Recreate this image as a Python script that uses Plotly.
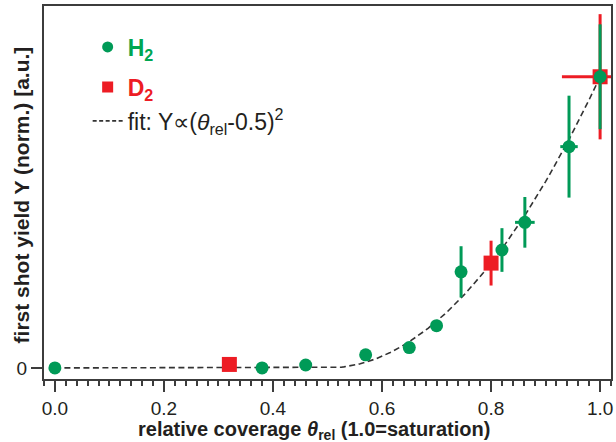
import numpy as np
import plotly.graph_objects as go

# H2 measurements: relative coverage vs. normalised first-shot yield
h2_theta = [0.0, 0.38, 0.46, 0.57, 0.65, 0.70, 0.745, 0.82, 0.862, 0.943, 1.0]
h2_yield = [0.0, 0.0, 0.01, 0.045, 0.07, 0.145, 0.33, 0.405, 0.50, 0.76, 1.0]
h2_err_y = [0, 0, 0, 0, 0, 0, 0.088, 0.075, 0.087, 0.175, 0.18]
h2_err_x = [0, 0, 0, 0, 0, 0, 0, 0, 0.018, 0.016, 0]

# D2 measurements
d2_theta = [0.32, 0.80, 1.0]
d2_yield = [0.012, 0.36, 1.0]
d2_err_y = [0, 0.077, 0.215]
d2_err_x = [0, 0, 0.07]

# quadratic threshold fit  Y = a * (theta - theta0)^2 above theta0
fit_theta0 = 0.5
fit_scale = 4.0

x_tickvals = [0.0, 0.2, 0.4, 0.6, 0.8, 1.0]
x_ticktext = ["0.0", "0.2", "0.4", "0.6", "0.8", "1.0"]

GREEN = "#009a57"
GREEN_TXT = "#00a651"
RED = "#ed1c24"
INK = "#231f20"
AXIS = "#3c3c3c"
FONT = "Liberation Sans, Arial, sans-serif"

fit_x = np.linspace(0.0, 1.0, 201)
fit_y = fit_scale * np.clip(fit_x - fit_theta0, 0, None) ** 2

fig = go.Figure()

fig.add_trace(go.Scatter(
    x=fit_x, y=fit_y, mode="lines",
    line=dict(color="#333333", width=1.6, dash="6px,3.5px"),
    showlegend=False, hoverinfo="skip",
))

fig.add_trace(go.Scatter(
    x=d2_theta, y=d2_yield, mode="markers",
    marker=dict(symbol="square", size=15, color=RED),
    error_y=dict(type="data", array=d2_err_y, color=RED, thickness=3, width=0),
    error_x=dict(type="data", array=d2_err_x, color=RED, thickness=3, width=0),
    showlegend=False,
))

fig.add_trace(go.Scatter(
    x=h2_theta, y=h2_yield, mode="markers",
    marker=dict(symbol="circle", size=13, color=GREEN),
    error_y=dict(type="data", array=h2_err_y, color=GREEN, thickness=3, width=0),
    error_x=dict(type="data", array=h2_err_x, color=GREEN, thickness=3, width=0),
    showlegend=False,
))

# legend entries
fig.add_trace(go.Scatter(
    x=[None], y=[None], mode="markers", name="<b>H<sub>2</sub></b>",
    marker=dict(symbol="circle", size=11, color=GREEN), legend="legend",
))
fig.add_trace(go.Scatter(
    x=[None], y=[None], mode="markers", name="<b>D<sub>2</sub></b>",
    marker=dict(symbol="square", size=11, color=RED), legend="legend2",
))
fig.add_trace(go.Scatter(
    x=[None], y=[None], mode="lines",
    name="fit: Y\u221d(<i>\u03b8</i><sub>rel</sub>-0.5)<sup>2</sup>",
    line=dict(color="#333333", width=1.6, dash="4px,2.5px"), legend="legend3",
))

legend_common = dict(bgcolor="rgba(0,0,0,0)", borderwidth=0, xanchor="left",
                     yanchor="middle", x=0.077)
fig.update_layout(
    legend=dict(**legend_common, y=0.89, font=dict(family=FONT, size=23, color=GREEN_TXT)),
    legend2=dict(**legend_common, y=0.783, font=dict(family=FONT, size=23, color=RED)),
    legend3=dict(**legend_common, y=0.692, font=dict(family=FONT, size=23, color=INK)),
)

fig.update_xaxes(
    range=[-0.02, 1.02], tickvals=x_tickvals, ticktext=x_ticktext,
    ticks="outside", ticklen=11, tickwidth=1.5, tickcolor=AXIS,
    minor=dict(dtick=0.02, tick0=0, ticks="outside", ticklen=5, tickwidth=1.5, tickcolor=AXIS),
    showline=True, linecolor=AXIS, linewidth=2, mirror=True,
    showgrid=False, zeroline=False,
    tickfont=dict(family=FONT, size=19, color=INK),
)
fig.update_yaxes(
    range=[-0.038, 1.243], tickvals=[0], ticktext=["0"],
    ticks="outside", ticklen=11, tickwidth=1.5, tickcolor=AXIS,
    showline=True, linecolor=AXIS, linewidth=2, mirror=True,
    showgrid=False, zeroline=False,
    tickfont=dict(family=FONT, size=19, color=INK),
)

fig.add_annotation(
    text="<b>first shot yield Y (norm.) [a.u.]</b>", textangle=-90,
    xref="paper", yref="paper", x=-0.040, y=0.493, xanchor="center", yanchor="middle",
    showarrow=False, font=dict(family=FONT, size=21, color=INK),
)
fig.add_annotation(
    text="<b>relative coverage <i>\u03b8</i><sub>rel</sub> (1.0=saturation)</b>",
    xref="paper", yref="paper", x=0.476, y=-0.138, xanchor="center", yanchor="middle",
    showarrow=False, font=dict(family=FONT, size=20, color=INK),
)

fig.update_layout(
    width=616, height=442,
    margin=dict(l=44, r=3, t=6, b=63),
    paper_bgcolor="white", plot_bgcolor="white",
    font=dict(family=FONT, color=INK),
)

fig.write_html("out.html")
